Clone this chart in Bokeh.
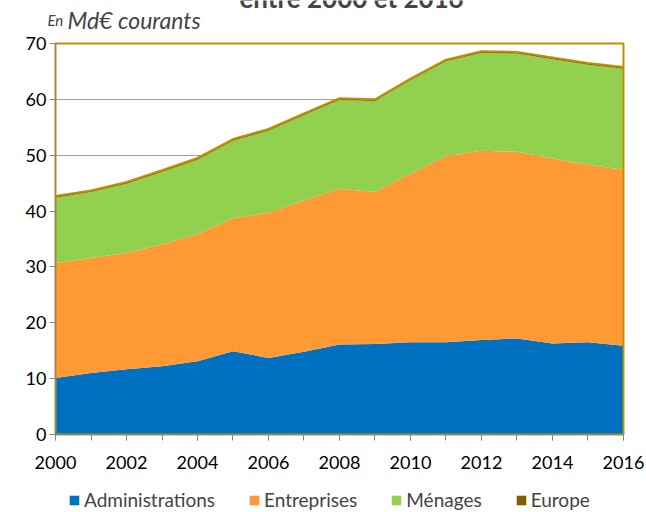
from bokeh.plotting import figure
from bokeh.models import Range1d, FixedTicker, Label, Legend, LegendItem, ColumnDataSource
from bokeh.transform import stack
from bokeh.embed import file_html
from bokeh.resources import INLINE

# ---- data ----
years = list(range(2000, 2017))
administrations = [10.1, 11.0, 11.7, 12.2, 13.1, 14.9, 13.7, 14.8, 16.1, 16.2, 16.5, 16.5, 16.9, 17.2, 16.3, 16.5, 15.9]
entreprises = [20.6, 20.6, 20.8, 21.8, 22.8, 23.8, 26.0, 27.1, 27.9, 27.2, 30.2, 33.3, 33.9, 33.4, 33.1, 31.8, 31.5]
menages = [11.7, 11.8, 12.4, 13.0, 13.3, 13.9, 14.7, 15.3, 15.9, 16.3, 16.7, 17.0, 17.5, 17.6, 17.8, 17.9, 18.1]
europe = [0.3, 0.3, 0.3, 0.3, 0.3, 0.3, 0.3, 0.3, 0.3, 0.3, 0.3, 0.3, 0.3, 0.3, 0.3, 0.3, 0.3]

series_names = ["Administrations", "Entreprises", "Ménages", "Europe"]
series_colors = ["#0070C0", "#FF9933", "#92D050", "#7F6000"]
y_ticks = [0, 10, 20, 30, 40, 50, 60, 70]
x_label_years = [2000, 2002, 2004, 2006, 2008, 2010, 2012, 2014, 2016]
title_text = "entre 2000 et 2016"
unit_small = "En"
unit_text = "Md€ courants"

FONT = "Lato"
GOLD = "#BF9000"
AXIS_GRAY = "#868686"

source = ColumnDataSource(dict(year=years, adm=administrations, ent=entreprises,
                               men=menages, eur=europe))
keys = ["adm", "ent", "men", "eur"]

# The frame covers the whole canvas; the visible plot area is 2000-2016 x 0-70,
# the view ranges leave room around it for the axes' labels, texts and legend.
p = figure(width=646, height=512,
           x_range=Range1d(1998.4507, 2016.6479), y_range=Range1d(-13.964, 77.698),
           output_backend="svg", toolbar_location=None,
           min_border=0, min_border_left=0, min_border_right=0,
           min_border_top=0, min_border_bottom=0)
p.title.visible = False

renderers = p.varea_stack(stackers=keys, x="year", color=series_colors, source=source)
p.line(x="year", y=stack(*keys), source=source, line_color=GOLD, line_width=2)

# plot-area border
p.quad(left=[years[0]], right=[years[-1]], bottom=[y_ticks[0]], top=[y_ticks[-1]],
       fill_color=None, line_color=GOLD, line_width=2)

# axes fixed at the plot-area edges
p.xaxis.fixed_location = y_ticks[0]
p.yaxis.fixed_location = years[0]
p.xaxis.bounds = (years[0], years[-1])
p.yaxis.bounds = (y_ticks[0], y_ticks[-1])
p.xaxis.ticker = FixedTicker(ticks=x_label_years, minor_ticks=years)
p.yaxis.ticker = FixedTicker(ticks=y_ticks, minor_ticks=[])
for ax in (p.xaxis, p.yaxis):
    ax.axis_line_color = AXIS_GRAY
    ax.major_tick_line_color = AXIS_GRAY
    ax.minor_tick_line_color = AXIS_GRAY
    ax.major_tick_in = 0
    ax.major_tick_out = 6
    ax.minor_tick_in = 0
    ax.minor_tick_out = 6
    ax.major_label_text_font = FONT
    ax.major_label_text_font_size = "18px"
    ax.major_label_text_color = "black"
p.yaxis.minor_tick_line_color = None
p.xaxis.major_label_standoff = 15
p.yaxis.major_label_standoff = 3

p.xgrid.visible = False
p.ygrid.ticker = FixedTicker(ticks=y_ticks)
p.ygrid.bounds = (y_ticks[0], y_ticks[-1])
p.ygrid.cross_bounds = (years[0], years[-1])
p.ygrid.grid_line_color = "#A0A0A0"
p.ygrid.grid_line_width = 1

p.outline_line_color = None
p.background_fill_color = "white"
p.border_fill_color = "white"

# unit label and (cropped, as in the reference) title
p.add_layout(Label(x=1999.775, y=74.2, text=unit_small, text_font=FONT,
                   text_font_style="italic", text_font_size="15px",
                   text_baseline="alphabetic"))
p.add_layout(Label(x=2000.34, y=74.2, text=unit_text, text_font=FONT,
                   text_font_style="italic", text_font_size="23px",
                   text_baseline="alphabetic"))
p.add_layout(Label(x=2008.34, y=78.1, text=title_text, text_font=FONT,
                   text_font_style="bold", text_font_size="26px",
                   text_align="center", text_baseline="alphabetic"))

legend = Legend(items=[LegendItem(label=n, renderers=[r]) for n, r in zip(series_names, renderers)],
                orientation="horizontal", location=(68, 1),
                label_text_font=FONT, label_text_font_size="19px",
                glyph_width=12, glyph_height=12, label_standoff=4, spacing=33,
                padding=0, margin=0, border_line_color=None, background_fill_alpha=0)
p.add_layout(legend, "center")

open("out.html", "w").write(file_html(p, INLINE))
